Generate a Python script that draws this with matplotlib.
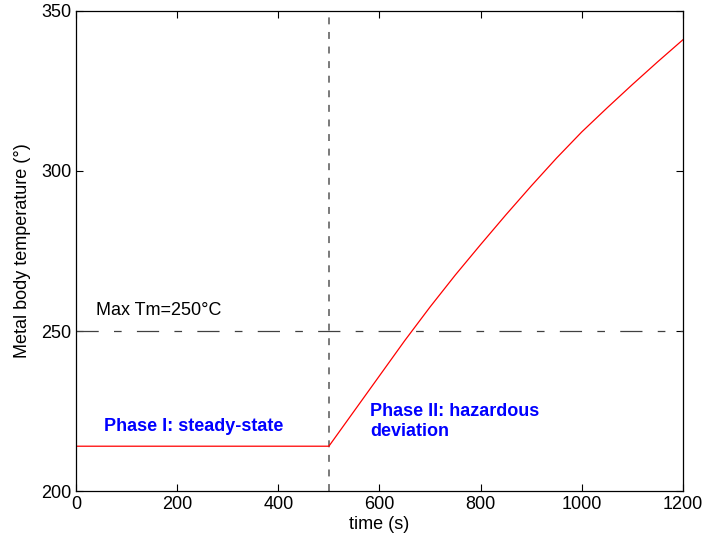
import matplotlib
matplotlib.use('Agg')
import matplotlib.pyplot as plt

# red temperature curve
time_s = [0, 500, 550, 600, 650, 700, 750, 800, 850, 900, 950, 1000, 1050, 1100, 1150, 1200]
temp = [214, 214, 225, 236, 247, 257.5, 267.5, 277, 286.3, 295.3, 304, 312.2, 319.7, 327, 334.1, 341]

x_ticks = [0, 200, 400, 600, 800, 1000, 1200]
y_ticks = [200, 250, 300, 350]
switch_time = 500
max_tm = 250

plt.rcParams['font.family'] = ['Liberation Sans', 'DejaVu Sans']
plt.rcParams['lines.scale_dashes'] = False

fig = plt.figure(figsize=(7.04, 5.44), dpi=100)
ax = fig.add_axes([0.108, 0.0974, 0.862, 0.8824])

ax.axvline(switch_time, color='#707070', lw=1.3, dashes=(5, 5.5))
ax.axhline(max_tm, color='#404040', lw=0.9, dashes=(16, 11, 5.5, 11))
ax.plot(time_s, temp, color='red', lw=0.9)

fs = 13
ax.text(40, 255, 'Max Tm=250°C', fontsize=fs)
ax.text(55, 218.7, 'Phase I: steady-state', fontsize=fs, color='blue', fontweight='bold')
ax.text(581, 217.2, 'Phase II: hazardous\ndeviation', fontsize=fs, color='blue',
        fontweight='bold', linespacing=1.22)

ax.set_xlim(0, 1200)
ax.set_ylim(200, 350)
ax.set_xticks(x_ticks)
ax.set_yticks(y_ticks)
ax.tick_params(direction='in', length=5, width=0.8, top=True, right=True, labelsize=fs)
for s in ax.spines.values():
    s.set_linewidth(0.9)

ax.set_xlabel('time (s)', fontsize=fs, labelpad=2)
ax.set_ylabel('Metal body temperature (°)', fontsize=fs, labelpad=7)

fig.savefig('out.png', dpi=100)
